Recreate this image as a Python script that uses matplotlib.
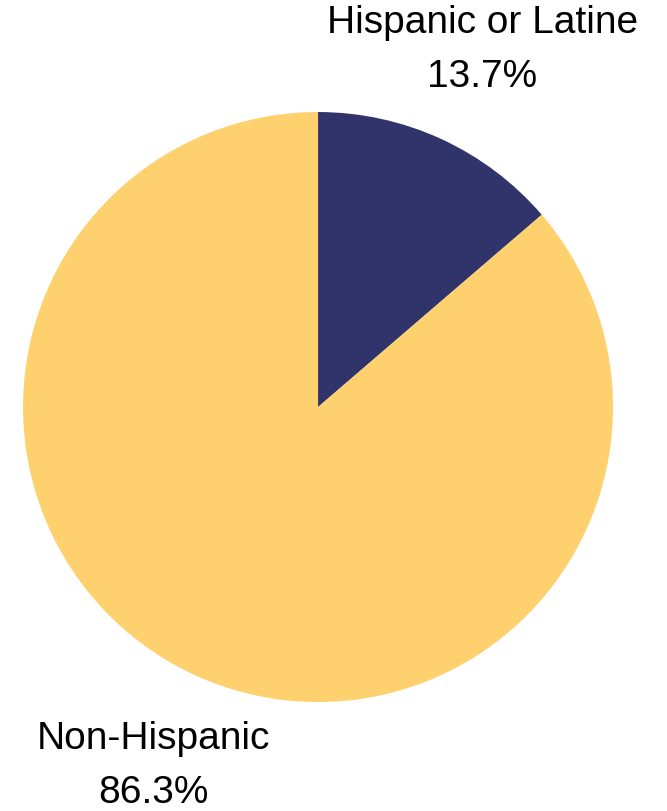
import matplotlib.pyplot as plt

categories = ['Hispanic or Latine', 'Non-Hispanic']
shares = [13.7, 86.3]
colors = ['#30346a', '#fed06e']

labels = [f"{c}\n{v:.1f}%" for c, v in zip(categories, shares)]

fig = plt.figure(figsize=(6.67, 8.12), dpi=100)
ax = fig.add_axes([0.0345, 0.1342, 0.8846, 0.7266])

wedges, texts = ax.pie(shares, labels=labels, colors=colors, startangle=90,
                       counterclock=False, labeldistance=1.335,
                       textprops=dict(fontsize=28, family='Liberation Sans',
                                      ha='center', va='center', linespacing=1.62))
for t in texts:
    t.set_horizontalalignment('center')
ax.set_xlim(-1, 1)
ax.set_ylim(-1, 1)
ax.set_aspect('equal')

fig.savefig('out.png', dpi=100)
